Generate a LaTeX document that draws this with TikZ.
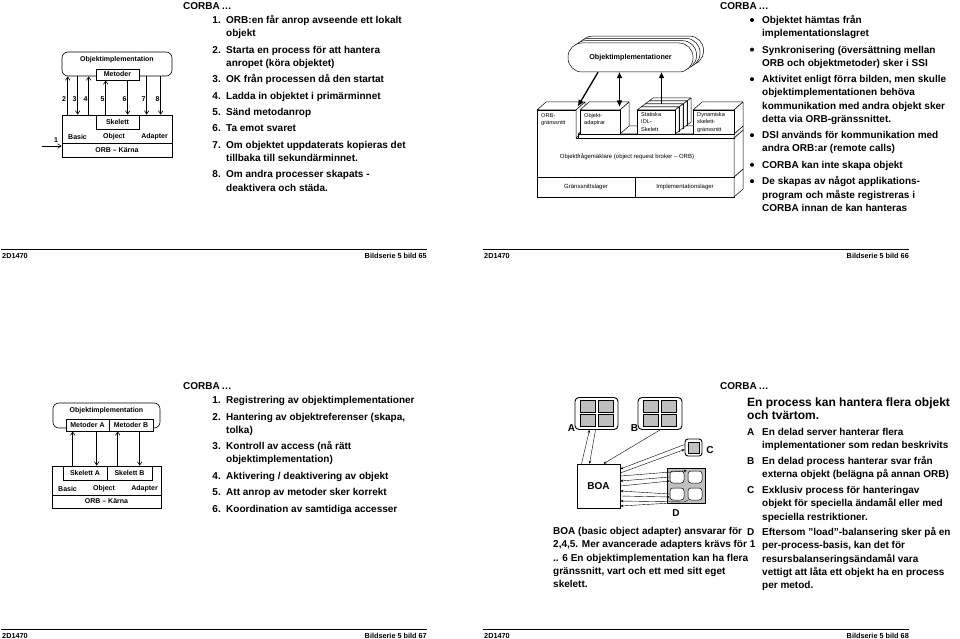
\documentclass[tikz,border=0pt]{standalone}
\usepackage{fontspec}
\setmainfont{Liberation Sans}
\usetikzlibrary{arrows.meta}
\begin{document}
\begin{tikzpicture}[x=1pt,y=-1pt,
  tx/.style={anchor=base west,inner sep=0pt,font=\fontsize{10}{12}\selectfont\bfseries},
  nm/.style={anchor=base east,inner sep=0pt,font=\fontsize{10}{12}\selectfont\bfseries},
  ttl/.style={anchor=base west,inner sep=0pt,font=\fontsize{12}{14}\selectfont\bfseries},
  fl/.style={anchor=base west,inner sep=0pt,font=\fontsize{7.3}{9}\selectfont\bfseries},
  fr/.style={anchor=base east,inner sep=0pt,font=\fontsize{7.3}{9}\selectfont\bfseries},
  rulel/.style={line width=0.9pt},
  dl/.style={inner sep=0pt,font=\fontsize{7}{8}\selectfont\bfseries},
  bx/.style={draw,fill=white,line width=0.6pt,inner sep=0pt},
  ar/.style={line width=0.6pt,-{Straight Barb[length=3.5pt,width=4.5pt]}},
  bul/.style={circle,fill=black,inner sep=0pt,minimum size=4pt},
  fc/.style={draw,fill=white,line width=0.5pt,line join=round},
  sm/.style={inner sep=0pt,font=\fontsize{5.6}{7.2}\selectfont,align=left},
  thk/.style={line width=1.3pt,-{Triangle[length=6pt,width=5pt]}},
  thkb/.style={line width=1.3pt,{Triangle[length=6pt,width=5pt]}-{Triangle[length=6pt,width=5pt]}},
  sq/.style={draw,fill=black!25,line width=0.5pt,inner sep=0pt,minimum width=15pt,minimum height=12pt},
  wq/.style={draw,fill=white,rounded corners=3pt,line width=0.5pt,inner sep=0pt,minimum width=14pt,minimum height=12pt},
  fan/.style={line width=0.4pt,-{Stealth[length=3pt,width=2.5pt]}},
  lab/.style={inner sep=0pt,font=\fontsize{10}{12}\selectfont\bfseries},
]
\useasboundingbox[fill=white] (0,0) rectangle (960,639);

% ---------------- footers ----------------
\draw[rulel] (1,249) -- (427,249);
\node[fl] (fa1) at (2,258.5) {2D1470};
\node[fr] (fb1) at (427,258.5) {Bildserie 5 bild 65};
\draw[rulel] (483,249) -- (909,249);
\node[fl] (fa2) at (484,258.5) {2D1470};
\node[fr] (fb2) at (909,258.5) {Bildserie 5 bild 66};
\draw[rulel] (1,629) -- (427,629);
\node[fl] (fa3) at (2,638) {2D1470};
\node[fr] (fb3) at (427,638) {Bildserie 5 bild 67};
\draw[rulel] (483,629) -- (909,629);
\node[fl] (fa4) at (484,638) {2D1470};
\node[fr] (fb4) at (909,638) {Bildserie 5 bild 68};

% ---------------- headings ----------------
\node[tx] (h1) at (183,9.6) {CORBA\,\ldots};
\node[tx] (h2) at (720,9.6) {CORBA\,\ldots};
\node[tx] (h3) at (183,389.6) {CORBA\,\ldots};
\node[tx] (h4) at (720,389.6) {CORBA\,\ldots};

% ---------------- slide 65: list ----------------
\node[nm] (n1) at (221,23.6) {1.};
\node[tx] (t1) at (226,23.6) {ORB:en får anrop avseende ett lokalt};
\node[tx] (t1b) at (226,36.8) {objekt};
\node[nm] (n2) at (221,53.2) {2.};
\node[tx] (t2) at (226,53.2) {Starta en process för att hantera};
\node[tx] (t2b) at (226,66.4) {anropet (köra objektet)};
\node[nm] (n3) at (221,82.8) {3.};
\node[tx] (t3) at (226,82.8) {OK från processen då den startat};
\node[nm] (n4) at (221,99.2) {4.};
\node[tx] (t4) at (226,99.2) {Ladda in objektet i primärminnet};
\node[nm] (n5) at (221,115.6) {5.};
\node[tx] (t5) at (226,115.6) {Sänd metodanrop};
\node[nm] (n6) at (221,132) {6.};
\node[tx] (t6) at (226,132) {Ta emot svaret};
\node[nm] (n7) at (221,148.4) {7.};
\node[tx] (t7) at (226,148.4) {Om objektet uppdaterats kopieras det};
\node[tx] (t7b) at (226,161.6) {tillbaka till sekundärminnet.};
\node[nm] (n8) at (221,178) {8.};
\node[tx] (t8) at (226,178) {Om andra processer skapats -};
\node[tx] (t8b) at (226,191.2) {deaktivera och städa.};

% ---------------- slide 65: diagram ----------------
\node[draw,line width=0.6pt,rounded corners=6pt,minimum width=110pt,minimum height=24pt,inner sep=0pt] (oi) at (117,64) {};
\node[dl] (oit) at (117,59.5) {Objektimplementation};
\node[bx,dl,minimum width=43pt,minimum height=11pt] (met) at (117.5,74.5) {Metoder};
\node[bx,minimum width=110pt,minimum height=42pt] (lb) at (117,136) {};
\node[bx,dl,minimum width=43pt,minimum height=14pt] (sk) at (117.5,122) {Skelett};
\node[dl,anchor=west] (bas1) at (68,137) {Basic};
\node[dl] (obj1) at (114,137) {Object};
\node[dl,anchor=east] (ada1) at (168,137) {Adapter};
\draw[line width=0.6pt] (lb.west |- 0,143.5) -- (lb.east |- 0,143.5);
\node[dl] (orb1) at (117,150.5) {ORB – Kärna};
\draw[ar] ([xshift=6]lb.north west) -- ([xshift=6]oi.south west);
\draw[ar] ([xshift=16]oi.south west) -- ([xshift=16]lb.north west);
\draw[ar] ([xshift=27]lb.north west) -- ([xshift=27]oi.south west);
\draw[ar] ([xshift=10]sk.north west) -- ([xshift=10]met.south west);
\draw[ar] ([xshift=32]met.south west) -- ([xshift=32]sk.north west);
\draw[ar] ([xshift=85]oi.south west) -- ([xshift=85]lb.north west);
\draw[ar] ([xshift=99]oi.south west) -- ([xshift=99]lb.north west);
\node[dl] (k2) at (64,99) {2};
\node[dl] (k3) at (74.5,99) {3};
\node[dl] (k4) at (85.5,99) {4};
\node[dl] (k5) at (102.5,99) {5};
\node[dl] (k6) at (124.5,99) {6};
\node[dl] (k7) at (143.5,99) {7};
\node[dl] (k8) at (157.5,99) {8};
\coordinate (s1) at (42,146);
\draw[ar] (s1) -- (s1 -| lb.west);
\node[dl] (k1) at (56,140.5) {1};

% ---------------- slide 66: diagram ----------------
\foreach \k in {3,2,1} {
  \draw[fc,rounded corners=14pt] ({568+3.5*\k},{43-2.3*\k}) rectangle ({693+3.5*\k},{72-2.3*\k});
}
\node[fc,rounded corners=14pt,minimum width=125pt,minimum height=29pt,inner sep=0pt,font=\fontsize{7.2}{8}\selectfont\bfseries] (pill) at (630.5,57.5) {Objektimplementationer};
% bottom layer
\draw[fc] (537,177) rectangle (734,197);
\draw[fc] (734,177) -- (743,169) -- (743,189) -- (734,197) -- cycle;
\draw[line width=0.5pt] (635,177) -- (635,197);
% ORB slab with ORB-interface block
\draw[fc] (537,110) -- (576,110) -- (576,138) -- (734,138) -- (734,177) -- (537,177) -- cycle;
\draw[fc] (734,138) -- (743,130) -- (743,169) -- (734,177) -- cycle;
\draw[fc] (537,110) -- (546,102) -- (585,102) -- (576,110) -- cycle;
\draw[fc] (576,110) -- (585,102) -- (585,130) -- (576,138) -- cycle;
% platform
\draw[fc] (578,134) -- (587,126) -- (743,126) -- (734,134) -- cycle;
\draw[fc] (578,134) rectangle (734,138);
\draw[fc] (734,134) -- (743,126) -- (743,130) -- (734,138) -- cycle;
% object adapter block
\draw[fc] (580,110) -- (589,102) -- (629,102) -- (620,110) -- cycle;
\draw[fc] (620,110) -- (629,102) -- (629,126) -- (620,134) -- cycle;
\draw[fc] (580,110) rectangle (620,134);
% static skeleton stack
\foreach \k in {3,2,1,0} {
  \draw[fc] ({637+4*\k},{110-3*\k}) -- ({641+4*\k},{107-3*\k}) -- ({679+4*\k},{107-3*\k}) -- ({675+4*\k},{110-3*\k}) -- cycle;
  \draw[fc] ({675+4*\k},{110-3*\k}) -- ({679+4*\k},{107-3*\k}) -- ({679+4*\k},{131-3*\k}) -- ({675+4*\k},{134-3*\k}) -- cycle;
  \draw[fc] ({637+4*\k},{110-3*\k}) rectangle ({675+4*\k},{134-3*\k});
}
% dynamic skeleton block
\draw[fc] (693,110) -- (702,102) -- (743,102) -- (734,110) -- cycle;
\draw[fc] (734,110) -- (743,102) -- (743,126) -- (734,134) -- cycle;
\draw[fc] (693,110) rectangle (734,134);
% labels
\node[sm,anchor=north west] (lo) at (541,113) {ORB-\\gränssnitt};
\node[sm,anchor=north west] (la) at (584,113) {Objekt-\\adaptrar};
\node[sm,anchor=north west] (ls) at (641,112.5) {Statiska\\IDL-\\Skelett};
\node[sm,anchor=north west] (ld) at (697,112.5) {Dynamiska\\skelett-\\gränssnitt};
\node[sm,font=\fontsize{6}{7}\selectfont] (lorb) at (627,157) {Objektfrågemäklare (object request broker – ORB)};
\node[sm,font=\fontsize{6}{7}\selectfont] (lg) at (586,187) {Gränssnittslager};
\node[sm,font=\fontsize{6}{7}\selectfont] (li) at (685,187) {Implementationslager};
% arrows
\coordinate (tgo) at (578,106);
\coordinate (tga) at (619.5,106.5);
\coordinate (tgs) at (661.5,104);
\draw[thk] ([xshift=-32.5]pill.south) -- (tgo);
\draw[thkb] ([xshift=-11]pill.south) -- (tga);
\draw[thk] (tgs) -- ([xshift=31]pill.south);

% ---------------- slide 66: bullets ----------------
\node[bul] (b1) at (752,20) {};
\node[tx] (u1) at (762,23.6) {Objektet hämtas från};
\node[tx] (u1b) at (762,36.8) {implementationslagret};
\node[bul] (b2) at (752,49.6) {};
\node[tx] (u2) at (762,53.2) {Synkronisering (översättning mellan};
\node[tx] (u2b) at (762,66.4) {ORB och objektmetoder) sker i SSI};
\node[bul] (b3) at (752,79.2) {};
\node[tx] (u3) at (762,82.8) {Aktivitet enligt förra bilden, men skulle};
\node[tx] (u3b) at (762,96) {objektimplementationen behöva};
\node[tx] (u3c) at (762,109.2) {kommunikation med andra objekt sker};
\node[tx] (u3d) at (762,122.4) {detta via ORB-gränssnittet.};
\node[bul] (b4) at (752,135.2) {};
\node[tx] (u4) at (762,138.8) {DSI används för kommunikation med};
\node[tx] (u4b) at (762,152) {andra ORB:ar (remote calls)};
\node[bul] (b5) at (752,164.8) {};
\node[tx] (u5) at (762,168.4) {CORBA kan inte skapa objekt};
\node[bul] (b6) at (752,181.2) {};
\node[tx] (u6) at (762,184.8) {De skapas av något applikations-};
\node[tx] (u6b) at (762,198) {program och måste registreras i};
\node[tx] (u6c) at (762,211.2) {CORBA innan de kan hanteras};

% ---------------- slide 67: diagram ----------------
\node[draw,line width=0.6pt,rounded corners=6pt,minimum width=107pt,minimum height=25pt,inner sep=0pt] (oi2) at (106.5,415.5) {};
\node[dl] (oit2) at (106.5,410.5) {Objektimplementation};
\node[bx,dl,minimum width=43pt,minimum height=12pt] (ma) at (87.5,425) {Metoder A};
\node[bx,dl,minimum width=44pt,minimum height=12pt] (mb) at (131,425) {Metoder B};
\node[bx,minimum width=109pt,minimum height=42pt] (lb2) at (106.5,487) {};
\node[bx,dl,minimum width=44pt,minimum height=14pt] (ska) at (85,473) {Skelett A};
\node[bx,dl,minimum width=45pt,minimum height=14pt] (skb) at (129.5,473) {Skelett B};
\node[dl,anchor=west] (bas2) at (58,488.5) {Basic};
\node[dl] (obj2) at (104,488.5) {Object};
\node[dl,anchor=east] (ada2) at (158,488.5) {Adapter};
\draw[line width=0.6pt] (lb2.west |- 0,495) -- (lb2.east |- 0,495);
\node[dl] (orb2) at (106.5,501.5) {ORB – Kärna};
\draw[ar] ([xshift=10]ska.north west) -- ([xshift=7]ma.south west);
\draw[ar] ([xshift=31]ma.south west) -- ([xshift=34]ska.north west);
\draw[ar] ([xshift=11]skb.north west) -- ([xshift=9]mb.south west);
\draw[ar] ([xshift=31]mb.south west) -- ([xshift=33]skb.north west);

% ---------------- slide 67: list ----------------
\node[nm] (m1) at (221,403.6) {1.};
\node[tx] (r1) at (226,403.6) {Registrering av objektimplementationer};
\node[nm] (m2) at (221,420) {2.};
\node[tx] (r2) at (226,420) {Hantering av objektreferenser (skapa,};
\node[tx] (r2b) at (226,433.2) {tolka)};
\node[nm] (m3) at (221,449.6) {3.};
\node[tx] (r3) at (226,449.6) {Kontroll av access (nå rätt};
\node[tx] (r3b) at (226,462.8) {objektimplementation)};
\node[nm] (m4) at (221,479.2) {4.};
\node[tx] (r4) at (226,479.2) {Aktivering / deaktivering av objekt};
\node[nm] (m5) at (221,495.6) {5.};
\node[tx] (r5) at (226,495.6) {Att anrop av metoder sker korrekt};
\node[nm] (m6) at (221,512) {6.};
\node[tx] (r6) at (226,512) {Koordination av samtidiga accesser};

% ---------------- slide 68: diagram ----------------
\node[draw,rounded corners=4pt,line width=0.9pt,minimum width=43pt,minimum height=32pt,inner sep=0pt] (ba) at (596.5,413.5) {};
\node[sq] (a11) at (587.5,406.5) {};
\node[sq] (a12) at (605.5,406.5) {};
\node[sq] (a21) at (587.5,420.5) {};
\node[sq] (a22) at (605.5,420.5) {};
\node[draw,rounded corners=4pt,line width=0.9pt,minimum width=44pt,minimum height=32pt,inner sep=0pt] (bb) at (660,413.5) {};
\node[sq] (b11) at (651,406.5) {};
\node[sq] (b12) at (669,406.5) {};
\node[sq] (b21) at (651,420.5) {};
\node[sq] (b22) at (669,420.5) {};
\node[draw,rounded corners=3pt,line width=0.9pt,minimum size=17pt,inner sep=0pt] (bc) at (693.5,447.5) {};
\node[sq,minimum width=11pt,minimum height=11pt] (c1) at (693.5,447.5) {};
\node[draw,line width=0.6pt,minimum width=43pt,minimum height=44pt,inner sep=0pt,lab] (boa) at (598.5,486) {BOA};
\node[draw,fill=black!25,line width=0.6pt,minimum width=38pt,minimum height=35pt,inner sep=0pt] (bd) at (686,485.5) {};
\node[wq] (w11) at (677,477) {};
\node[wq] (w12) at (695,477) {};
\node[wq] (w21) at (677,494) {};
\node[wq] (w22) at (695,494) {};
\node[lab] (lA) at (571.5,428) {A};
\node[lab] (lB) at (634.5,428) {B};
\node[lab] (lC) at (710,450) {C};
\node[lab] (lD) at (676,513) {D};
\draw[fan] ([xshift=-17]boa.north) -- ([xshift=-7]ba.south);
\draw[fan] ([xshift=-1]ba.south) -- ([xshift=-9]boa.north);
\draw[fan] (bb.south) -- ([xshift=5]boa.north);
\draw[fan] ([yshift=3]bc.west) -- ([yshift=17]boa.east);
\draw[fan] ([yshift=13]boa.east) -- ([yshift=-2]bc.west);
\draw[fan] ([yshift=10]boa.east) -- ([xshift=-1]w12.north west);
\draw[fan] (w11.west) -- ([yshift=5]boa.east);
\draw[fan] (boa.east) -- ([yshift=-4]w11.west);
\draw[fan] (w21.west) -- ([yshift=-5]boa.east);
\draw[fan] ([yshift=-10]boa.east) -- ([yshift=-3]w21.west);
\coordinate (dk) at (684,502);
\draw[fan] (w22.south west) -- (dk) -- ([yshift=-15]boa.east);
\draw[fan] (bd.south west) -- ([yshift=-20]boa.east);

% ---------------- slide 68: texts ----------------
\node[tx] (v1) at (553,534.6) {BOA (basic object adapter) ansvarar för};
\node[tx] (v2) at (553,547.8) {2,4,5. Mer avancerade adapters krävs för 1};
\node[tx] (v3) at (553,561) {.. 6 En objektimplementation kan ha flera};
\node[tx] (v4) at (553,574.2) {gränssnitt, vart och ett med sitt eget};
\node[tx] (v5) at (553,587.4) {skelett.};

\node[ttl] (ti1) at (747,406.3) {En process kan hantera flera objekt};
\node[ttl] (ti2) at (747,419.3) {och tvärtom.};
\node[tx] (qA) at (747,435.6) {A};
\node[tx] (pA) at (762,435.6) {En delad server hanterar flera};
\node[tx] (pA2) at (762,448.8) {implementationer som redan beskrivits};
\node[tx] (qB) at (747,464.6) {B};
\node[tx] (pB) at (762,464.6) {En delad process hanterar svar från};
\node[tx] (pB2) at (762,477.8) {externa objekt (belägna på annan ORB)};
\node[tx] (qC) at (747,493.6) {C};
\node[tx] (pC) at (762,493.6) {Exklusiv process för hanteringav};
\node[tx] (pC2) at (762,506.8) {objekt för speciella ändamål eller med};
\node[tx] (pC3) at (762,520) {speciella restriktioner.};
\node[tx] (qD) at (747,535.6) {D};
\node[tx] (pD) at (762,535.6) {Eftersom ”load”-balansering sker på en};
\node[tx] (pD2) at (762,548.8) {per-process-basis, kan det för};
\node[tx] (pD3) at (762,562) {resursbalanseringsändamål vara};
\node[tx] (pD4) at (762,575.2) {vettigt att låta ett objekt ha en process};
\node[tx] (pD5) at (762,588.4) {per metod.};
\end{tikzpicture}
\end{document}
